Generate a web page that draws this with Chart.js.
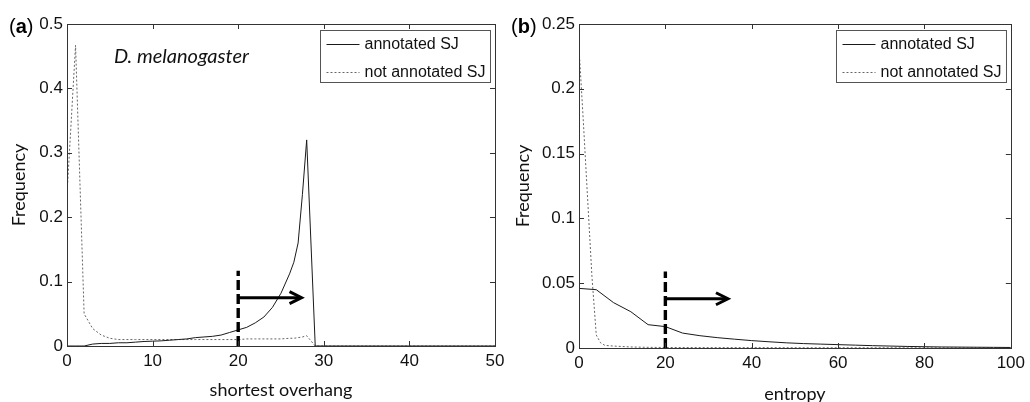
<!DOCTYPE html>
<html>
<head>
<meta charset="utf-8">
<script src="https://cdn.jsdelivr.net/npm/chart.js@4/dist/chart.umd.min.js"></script>
<style>
  body { margin: 0; background: #fff; width: 1030px; height: 402px; overflow: hidden; position: relative; }
  canvas { position: absolute; top: 0; }
  #chartA { left: 0; }
  #chartB { left: 510px; }
</style>
</head>
<body>
<canvas id="chartA" width="510" height="402"></canvas>
<canvas id="chartB" width="520" height="402"></canvas>
<script>
// (a) shortest overhang
const overhangX = [0,1,2,3,4,5,6,7,8,9,10,11,12,13,14,15,16,17,18,19,20,21,22,23,24,25,26,26.5,27,27.5,28,29,30,40,50];
const overhangAnnotated = [0,0,0,0.003,0.004,0.004,0.005,0.005,0.006,0.007,0.0075,0.008,0.009,0.01,0.011,0.013,0.014,0.015,0.017,0.021,0.025,0.029,0.036,0.045,0.06,0.082,0.112,0.13,0.16,0.235,0.32,0,0,0,0];
const overhangNotAnnotated = [0.235,0.467,0.05,0.027,0.017,0.012,0.01,0.01,0.01,0.01,0.01,0.01,0.01,0.01,0.01,0.01,0.01,0.01,0.01,0.01,0.01,0.011,0.011,0.011,0.011,0.011,0.012,0.012,0.013,0.014,0.016,0,0,0,0];
const overhangTicks = [0,10,20,30,40,50];
const overhangFreqTicks = [0,0.1,0.2,0.3,0.4,0.5];
const overhangCutoff = [20, 0.117];   // x, top of dashed marker
const overhangArrow = [0.075, 27.4];  // y, arrow tip x

// (b) entropy
const entropyBinsX = [0,4,8,12,16,20,24,28,32,36,40,44,48,52,56,60,64,68,72,76,80,84,88,92,96,100];
const entropyAnnotated = [0.046,0.045,0.035,0.028,0.018,0.0165,0.0115,0.0095,0.008,0.0068,0.0057,0.0048,0.004,0.0034,0.003,0.0026,0.0022,0.0018,0.0015,0.0012,0.001,0.0008,0.0007,0.0006,0.0005,0.0004];
const entropyFineX = [0,1,2,3,4,5,6,8,12,16,20,30,40,50,60,70,80,90,100];
const entropyNotAnnotated = [0.232,0.175,0.115,0.055,0.01,0.004,0.002,0.0015,0.0008,0.0005,0.0004,0.0003,0.0003,0.0002,0.0002,0.0002,0.0001,0.0001,0.0001];
const entropyTicks = [0,20,40,60,80,100];
const entropyFreqTicks = [0,0.05,0.1,0.15,0.2,0.25];
const entropyCutoff = [20, 0.059];
const entropyArrow = [0.038, 34.5];

const seriesNames = ['annotated SJ', 'not annotated SJ'];

const tickFont = { family: 'Liberation Sans, Arial, sans-serif', size: 17 };
const titleFont = { family: 'Lato, sans-serif', size: 18 };

function pts(xs, ys) {
  return xs.map((x, i) => ({ x: x, y: ys[i] }));
}

function fmt(v) {
  return String(+Number(v).toFixed(2));
}

function makeScales(xTicks, yTicks, xTitle, yTitlePad, xTitlePad, xHeight, yWidth) {
  return {
    x: {
      type: 'linear', min: xTicks[0], max: xTicks[xTicks.length - 1],
      afterBuildTicks: s => { s.ticks = xTicks.map(v => ({ value: v })); },
      afterFit: s => { s.height = xHeight; },
      ticks: { padding: 5, color: '#111', font: tickFont, maxRotation: 0, autoSkip: false, callback: fmt },
      grid: { display: false, drawTicks: false },
      border: { display: false },
      title: { display: true, text: xTitle, color: '#111', font: titleFont, padding: { top: 0, bottom: xTitlePad } }
    },
    y: {
      type: 'linear', min: yTicks[0], max: yTicks[yTicks.length - 1],
      afterBuildTicks: s => { s.ticks = yTicks.map(v => ({ value: v })); },
      afterFit: s => { s.width = yWidth; },
      ticks: { padding: 4, color: '#111', font: tickFont, autoSkip: false, callback: fmt },
      grid: { display: false, drawTicks: false },
      border: { display: false },
      title: { display: true, text: 'Frequency', color: '#111', font: titleFont, padding: { top: yTitlePad, bottom: 0 } }
    }
  };
}

function line(ctx, x1, y1, x2, y2) {
  ctx.beginPath();
  ctx.moveTo(x1, y1);
  ctx.lineTo(x2, y2);
  ctx.stroke();
}

// box + inward ticks, cutoff marker with arrow, legend, panel letter
const panelPlugin = {
  id: 'panel',
  afterDatasetsDraw(chart, args, o) {
    const { ctx, chartArea: a, scales: { x, y } } = chart;
    ctx.save();

    // threshold marker
    const cx = x.getPixelForValue(o.cutoff[0]);
    ctx.strokeStyle = '#000';
    ctx.lineWidth = 3.4;
    ctx.setLineDash([10, 4]);
    line(ctx, cx, a.bottom, cx, y.getPixelForValue(o.cutoff[1]));
    ctx.setLineDash([]);
    const ay = y.getPixelForValue(o.arrow[0]);
    const tip = x.getPixelForValue(o.arrow[1]);
    ctx.lineWidth = 3;
    line(ctx, cx, ay, tip - 2, ay);
    ctx.lineJoin = 'miter';
    ctx.beginPath();
    ctx.moveTo(tip - 12, ay - 6);
    ctx.lineTo(tip, ay);
    ctx.lineTo(tip - 12, ay + 6);
    ctx.stroke();

    // frame
    ctx.strokeStyle = '#333';
    ctx.lineWidth = 1;
    ctx.strokeRect(Math.round(a.left) + 0.5, Math.round(a.top) + 0.5, Math.round(a.width), Math.round(a.height));
    x.ticks.forEach(t => {
      const px = Math.round(x.getPixelForValue(t.value)) + 0.5;
      line(ctx, px, a.bottom, px, a.bottom - 5);
      line(ctx, px, a.top, px, a.top + 5);
    });
    y.ticks.forEach(t => {
      const py = Math.round(y.getPixelForValue(t.value)) + 0.5;
      line(ctx, a.left, py, a.left + 5, py);
      line(ctx, a.right, py, a.right - 5, py);
    });

    // legend
    ctx.font = '16px "Liberation Sans", Arial, sans-serif';
    const ds = chart.data.datasets;
    const tw = Math.max(...ds.map(d => ctx.measureText(d.label).width));
    const bw = 6 + 33 + 5 + tw + 5, bh = 52;
    const bx = Math.round(a.right - 5 - bw) + 0.5, by = Math.round(a.top + 6) + 0.5;
    ctx.fillStyle = '#fff';
    ctx.fillRect(bx, by, bw, bh);
    ctx.strokeStyle = '#555';
    ctx.strokeRect(bx, by, bw, bh);
    ds.forEach((d, i) => {
      const ly = by + 13 + i * 28;
      ctx.strokeStyle = d.borderColor;
      ctx.lineWidth = 1;
      ctx.setLineDash(d.borderDash || []);
      line(ctx, bx + 6, Math.round(ly) + 0.5, bx + 39, Math.round(ly) + 0.5);
      ctx.setLineDash([]);
      ctx.fillStyle = '#111';
      ctx.textBaseline = 'middle';
      ctx.textAlign = 'left';
      ctx.fillText(d.label, bx + 44, ly + 1);
    });

    // panel letter
    ctx.textBaseline = 'alphabetic';
    ctx.fillStyle = '#000';
    ctx.font = '20px "Liberation Sans", Arial, sans-serif';
    let lx = o.letterX;
    ctx.fillText('(', lx, 33);
    lx += ctx.measureText('(').width;
    ctx.font = 'bold 20px "Liberation Sans", Arial, sans-serif';
    ctx.fillText(o.letter, lx, 33);
    lx += ctx.measureText(o.letter).width;
    ctx.font = '20px "Liberation Sans", Arial, sans-serif';
    ctx.fillText(')', lx, 33);

    if (o.species) {
      ctx.font = 'italic 20px Lato, sans-serif';
      ctx.fillStyle = '#111';
      ctx.fillText(o.species, 114, 63);
    }
    ctx.restore();
  }
};

function datasets(xsA, ysA, xsN, ysN) {
  return [
    { label: seriesNames[0], data: pts(xsA, ysA), borderColor: '#1a1a1a', borderWidth: 1, pointRadius: 0, tension: 0 },
    { label: seriesNames[1], data: pts(xsN, ysN), borderColor: '#666', borderWidth: 1, borderDash: [2, 2], pointRadius: 0, tension: 0 }
  ];
}

new Chart(document.getElementById('chartA'), {
  type: 'line',
  data: { datasets: datasets(overhangX, overhangAnnotated, overhangX, overhangNotAnnotated) },
  options: {
    responsive: false, animation: false, devicePixelRatio: 1,
    layout: { padding: { left: 0, right: 15, top: 24, bottom: 0 } },
    scales: makeScales(overhangTicks, overhangFreqTicks, 'shortest overhang', 8, 1.5, 56, 67),
    plugins: {
      legend: { display: false }, tooltip: { enabled: false },
      panel: { cutoff: overhangCutoff, arrow: overhangArrow, letter: 'a', letterX: 9, species: 'D. melanogaster' }
    }
  },
  plugins: [panelPlugin]
});

new Chart(document.getElementById('chartB'), {
  type: 'line',
  data: { datasets: datasets(entropyBinsX, entropyAnnotated, entropyFineX, entropyNotAnnotated) },
  options: {
    responsive: false, animation: false, devicePixelRatio: 1,
    layout: { padding: { left: 0, right: 13, top: 24, bottom: 0 } },
    scales: makeScales(entropyTicks, entropyFreqTicks, 'entropy', 2, -2.5, 54, 69),
    plugins: {
      legend: { display: false }, tooltip: { enabled: false },
      panel: { cutoff: entropyCutoff, arrow: entropyArrow, letter: 'b', letterX: 1 }
    }
  },
  plugins: [panelPlugin]
});
</script>
</body>
</html>
